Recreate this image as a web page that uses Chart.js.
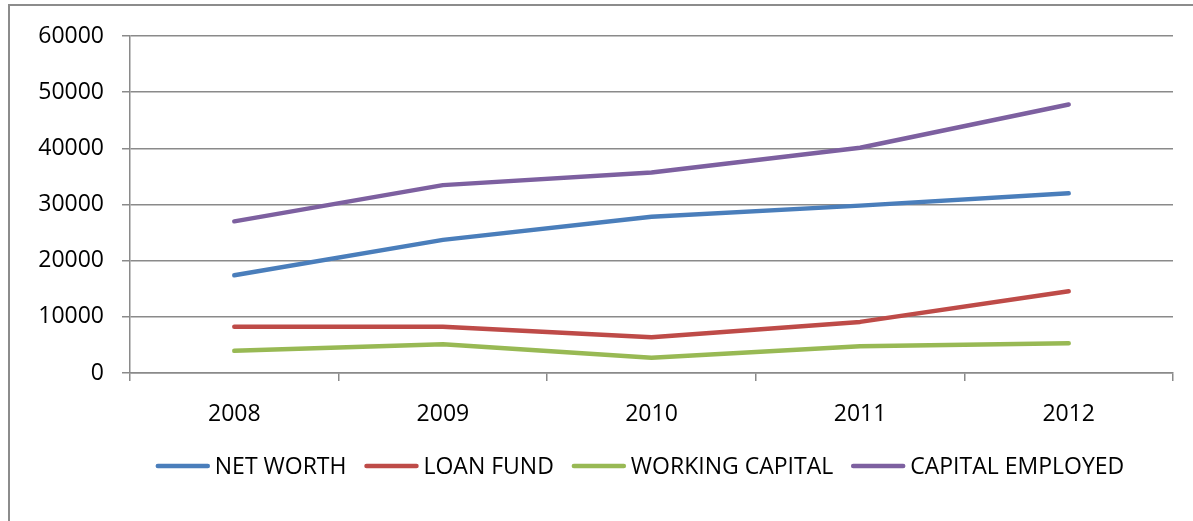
<!DOCTYPE html>
<html>
<head>
<meta charset="utf-8">
<script src="https://cdn.jsdelivr.net/npm/chart.js@4/dist/chart.umd.min.js"></script>
<style>
  html, body { margin: 0; padding: 0; background: #ffffff; overflow: hidden; }
  #frame {
    position: absolute; left: 8px; top: 4px; width: 1300px; height: 600px;
    border: 2px solid #8c8c8c; box-sizing: border-box;
  }
  #wrap { position: absolute; left: 0; top: 0; width: 1193px; height: 521px; }
</style>
</head>
<body>
<div id="frame"></div>
<div id="wrap"><canvas id="chart" width="1193" height="521"></canvas></div>
<script>
// Years on the category axis
const years = ['2008', '2009', '2010', '2011', '2012'];

// Series values (in lakhs)
const netWorth        = [17400, 23700, 27800, 29800, 32000];
const loanFund        = [8250, 8250, 6350, 9100, 14550];
const workingCapital  = [3950, 5100, 2700, 4750, 5300];
const capitalEmployed = [27000, 33450, 35700, 40100, 47800];

// Value axis range and step
const yMin = 0;
const yMax = 60000;
const yStep = 10000;

const seriesNames  = ['NET WORTH', 'LOAN FUND', 'WORKING CAPITAL', 'CAPITAL EMPLOYED'];
const seriesColors = ['#4a7ebb', '#be4b48', '#98b954', '#7d60a0'];
const seriesData   = [netWorth, loanFund, workingCapital, capitalEmployed];

const fontFamily = '"Open Sans", "Liberation Sans", sans-serif';
const font = { family: fontFamily, size: 23 };
const gridColor = '#8a8a8a';

// Legend row under the axis: short line swatch, then the series name.
// The frame continues past the right edge, so the row is centred on x = 640.
const lineLegend = {
  id: 'lineLegend',
  afterDraw(chart) {
    const ctx = chart.ctx;
    const swatch = 54, gap = 5, spacing = 18, centreX = 640;
    const y = chart.chartArea.bottom + 93;
    ctx.save();
    ctx.font = `${font.size}px ${fontFamily}`;
    ctx.textBaseline = 'middle';
    ctx.textAlign = 'left';
    const sets = chart.data.datasets;
    const widths = sets.map(ds => swatch + gap + ctx.measureText(ds.label).width);
    const total = widths.reduce((a, b) => a + b, 0) + spacing * (sets.length - 1);
    let x = centreX - total / 2;
    sets.forEach((ds, i) => {
      ctx.strokeStyle = ds.borderColor;
      ctx.lineWidth = 4.5;
      ctx.lineCap = 'round';
      ctx.beginPath();
      ctx.moveTo(x + 2, y);
      ctx.lineTo(x + swatch - 2, y);
      ctx.stroke();
      ctx.fillStyle = '#000000';
      ctx.fillText(ds.label, x + swatch + gap, y + 1);
      x += widths[i] + spacing;
    });
    ctx.restore();
  }
};

new Chart(document.getElementById('chart'), {
  type: 'line',
  data: {
    labels: years,
    datasets: seriesNames.map((name, i) => ({
      label: name,
      data: seriesData[i],
      borderColor: seriesColors[i],
      backgroundColor: seriesColors[i],
      borderWidth: 4.5,
      borderCapStyle: 'round',
      borderJoinStyle: 'round',
      pointRadius: 0,
      tension: 0,
      fill: false
    }))
  },
  plugins: [lineLegend],
  options: {
    responsive: false,
    animation: false,
    devicePixelRatio: 1,
    layout: { padding: { left: 20, right: 20, top: 36, bottom: 82 } },
    plugins: {
      tooltip: { enabled: false },
      legend: { display: false }
    },
    scales: {
      x: {
        type: 'category',
        offset: true,
        afterFit(scale) { scale.height = 66; },
        grid: {
          offset: true,
          drawOnChartArea: false,
          drawTicks: true,
          tickLength: 8,
          color: gridColor,
          lineWidth: 1.5
        },
        border: { display: true, color: gridColor, width: 1.5 },
        ticks: { color: '#000000', font: font, padding: 20, maxRotation: 0 }
      },
      y: {
        min: yMin,
        max: yMax,
        afterFit(scale) { scale.width = 110; },
        grid: {
          color: gridColor,
          lineWidth: 1.5,
          tickLength: 8,
          drawTicks: true
        },
        border: { display: true, color: gridColor, width: 1.5 },
        ticks: {
          color: '#000000',
          font: font,
          padding: 18,
          stepSize: yStep,
          callback: v => String(v)
        }
      }
    }
  }
});
</script>
</body>
</html>
